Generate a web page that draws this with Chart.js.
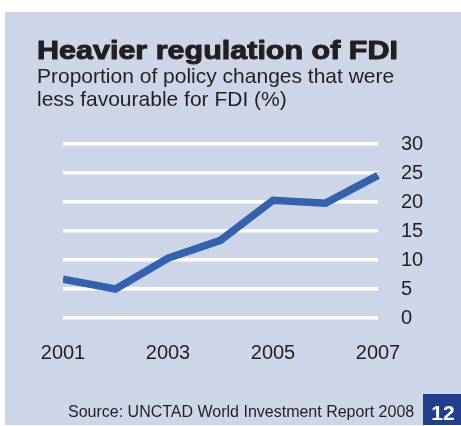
<!DOCTYPE html>
<html>
<head>
<meta charset="utf-8">
<script src="https://cdn.jsdelivr.net/npm/chart.js@4.4.1/dist/chart.umd.min.js"></script>
<style>
    html, body { margin: 0; padding: 0; background: #ffffff; }
    canvas { display: block; }
</style>
</head>
<body>
<canvas id="Chart" width="461" height="426"></canvas>
<script>
// values
const years = ['2001', '2002', '2003', '2004', '2005', '2006', '2007'];
const lessFavourable = [6.7, 5.0, 10.3, 13.4, 20.3, 19.8, 24.6];
const shownYears = ['2001', '2003', '2005', '2007'];

const titleText = 'Heavier regulation of FDI';
const subtitleLines = ['Proportion of policy changes that were', 'less favourable for FDI (%)'];
const sourceText = 'Source: UNCTAD World Investment Report 2008';
const pageNumber = '12';

const panelColor = '#CDD6E9';
const lineColor = '#3561AD';
const textColor = '#231F20';

const framePlugin = {
    id: 'frame',
    beforeDraw(chart) {
        const ctx = chart.ctx;
        ctx.save();
        ctx.fillStyle = '#ffffff';
        ctx.fillRect(0, 0, chart.width, chart.height);
        ctx.fillStyle = panelColor;
        ctx.fillRect(5, 12, chart.width - 5, 413);
        ctx.restore();
    },
    afterDraw(chart) {
        const ctx = chart.ctx;
        ctx.save();
        ctx.fillStyle = textColor;
        ctx.textBaseline = 'alphabetic';
        ctx.textAlign = 'left';

        // heavy title, stretched to the width it has in the original
        ctx.font = 'bold 26px "Liberation Sans", Arial, sans-serif';
        const w = ctx.measureText(titleText).width;
        ctx.save();
        ctx.translate(37, 59);
        ctx.scale(361 / w, 1);
        ctx.strokeStyle = textColor;
        ctx.lineWidth = 1;
        ctx.lineJoin = 'round';
        ctx.strokeText(titleText, 0, 0);
        ctx.fillText(titleText, 0, 0);
        ctx.restore();

        ctx.font = '21px "Liberation Sans", Arial, sans-serif';
        ctx.fillText(subtitleLines[0], 37, 83);
        ctx.fillText(subtitleLines[1], 37, 106);

        ctx.font = '16px "Liberation Sans", Arial, sans-serif';
        ctx.fillText(sourceText, 68, 417);

        ctx.fillStyle = '#223F8D';
        ctx.fillRect(423, 394, chart.width - 423, 31);
        ctx.fillStyle = '#ffffff';
        ctx.font = 'bold 21px "Liberation Sans", Arial, sans-serif';
        ctx.textAlign = 'center';
        ctx.fillText(pageNumber, 443, 420);
        ctx.restore();
    }
};

const chartData = {
    labels: years,
    datasets: [{
        label: 'Less favourable changes (%)',
        data: lessFavourable,
        borderColor: lineColor,
        backgroundColor: lineColor,
        borderWidth: 7.5,
        pointRadius: 0,
        pointHoverRadius: 0,
        tension: 0,
        borderJoinStyle: 'miter',
        borderCapStyle: 'butt',
        clip: {left: 0, top: 6, right: 3, bottom: 6}
    }]
};

const chartOptions = {
    responsive: false,
    animation: false,
    events: [],
    layout: {
        padding: {left: 63, top: 144, right: 0, bottom: 0}
    },
    plugins: {
        legend: {display: false},
        title: {display: false},
        tooltip: {enabled: false}
    },
    scales: {
        x: {
            type: 'category',
            offset: false,
            grid: {display: false, drawTicks: false},
            border: {display: false},
            ticks: {
                autoSkip: false,
                maxRotation: 0,
                padding: 23,
                color: textColor,
                font: {family: '"Liberation Sans", Arial, sans-serif', size: 20},
                callback: function (value, index) {
                    const y = years[index];
                    return shownYears.includes(y) ? y : '';
                }
            },
            afterFit(scale) {
                scale.height = 108;
            }
        },
        y: {
            position: 'right',
            min: 0,
            max: 30,
            grid: {color: '#ffffff', lineWidth: 3.5, drawTicks: false},
            border: {display: false},
            ticks: {
                stepSize: 5,
                padding: 23,
                color: textColor,
                font: {family: '"Liberation Sans", Arial, sans-serif', size: 20}
            },
            afterFit(scale) {
                scale.width = 83;
            }
        }
    }
};

const ctx = document.getElementById('Chart').getContext('2d');
const chart = new Chart(ctx, {
    type: 'line',
    data: chartData,
    options: chartOptions,
    plugins: [framePlugin]
});
</script>
</body>
</html>
